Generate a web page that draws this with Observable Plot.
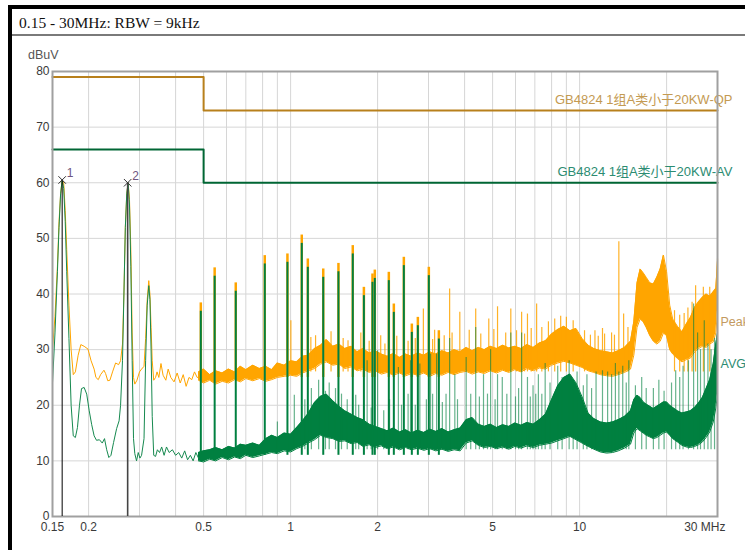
<!DOCTYPE html>
<html><head><meta charset="utf-8">
<script src="https://cdn.jsdelivr.net/npm/d3@7"></script>
<script src="https://cdn.jsdelivr.net/npm/@observablehq/plot@0.6"></script>
<style>
html,body{margin:0;padding:0;background:#fff;}
#wrap{position:relative;width:745px;height:550px;overflow:hidden;font-family:"Liberation Sans",Arial,sans-serif;}
#topbar{position:absolute;left:8px;top:5px;width:737px;height:4px;background:#000;}
#leftbar{position:absolute;left:8px;top:5px;width:4px;height:545px;background:#000;}
#title{position:absolute;left:19px;top:14px;font-family:"Liberation Serif","Times New Roman",serif;font-size:15.5px;color:#111;line-height:18px;}
#sep{position:absolute;left:12px;top:34px;width:733px;height:2px;background:#7a7a7a;}
#unit{position:absolute;left:28px;top:48px;font-size:12.5px;color:#555;}
#chart{position:absolute;left:0;top:0;}
</style></head>
<body>
<div id="wrap">
  <div id="topbar"></div>
  <div id="leftbar"></div>
  <div id="title">0.15 - 30MHz: RBW = 9kHz</div>
  <div id="sep"></div>
  <div id="unit">dBuV</div>
  <div id="chart"></div>
</div>
<script>
// ---------- axes / grid ----------
const xTicks = [0.15, 0.2, 0.5, 1, 2, 5, 10];
const xTickLabels = ["0.15", "0.2", "0.5", "1", "2", "5", "10"];
const xEndTick = [30];
const xEndLabel = ["30 MHz"];
const xGrid = [0.2, 0.3, 0.4, 0.5, 0.6, 0.7, 0.8, 0.9, 1, 2, 3, 4, 5, 6, 7, 8, 9, 10, 20];
const yTicks = [0, 10, 20, 30, 40, 50, 60, 70, 80];

// ---------- limit lines ----------
const qpFreq = [0.15, 0.5, 0.5, 30];
const qpLevel = [79, 79, 73, 73];
const avFreq = [0.15, 0.5, 0.5, 30];
const avLevel = [66, 66, 60, 60];
const limitNames = ["GB4824 1组A类小于20KW-QP", "GB4824 1组A类小于20KW-AV"];
const limitLabelLevel = [73, 60];
const traceNames = ["Peak", "AVG"];
const traceLabelLevel = [34.9, 27.5];

// ---------- peak trace, low-frequency part (single line) ----------
const peakLineFreq = [0.150,0.153,0.156,0.158,0.160,0.162,0.164,0.166,0.168,0.171,0.174,0.177,0.180,0.184,0.188,0.193,0.199,0.204,0.209,0.212,0.216,0.220,0.226,0.229,0.233,0.237,0.242,0.248,0.254,0.258,0.262,0.265,0.268,0.271,0.274,0.277,0.280,0.283,0.286,0.289,0.294,0.300,0.305,0.311,0.315,0.319,0.323,0.326,0.329,0.332,0.336,0.341,0.345,0.350,0.356,0.362,0.370,0.377,0.385,0.395,0.405,0.415,0.425,0.435,0.445,0.455,0.465,0.475,0.480];
const peakLineVal  = [30,36,45,53,58,60.5,60,55,48,38,30,25.5,26,29,30.9,30.6,30.1,28,26.5,25,24.6,25.5,26.3,25.7,24.4,24.5,26,27.6,27.3,28,31,40,52,58,60,57,48,33,25,23.8,24.5,26,26.5,27,32,39,42.4,40,34,28,24.5,25,26,25,27.5,25.4,24.5,26.5,25,24.2,25.8,24,25.5,23.4,25,24.6,26,25,25];

// ---------- dense part: shared frequency grid for the noise envelopes ----------
const bandFreq = [0.48,0.50,0.525,0.55,0.58,0.61,0.64,0.67,0.70,0.74,0.78,0.82,0.86,0.90,0.95,1.0,1.05,1.10,1.15,1.21,1.27,1.33,1.40,1.47,1.54,1.62,1.70,1.78,1.87,1.96,2.06,2.16,2.27,2.38,2.5,2.62,2.75,2.89,3.03,3.18,3.34,3.51,3.68,3.86,4.05,4.25,4.46,4.68,4.91,5.16,5.42,5.69,5.97,6.27,6.58,6.91,7.26,7.62,8.0,8.4,8.82,9.26,9.72,10.2,10.7,11.2,11.8,12.4,13.0,13.6,14.3,15.0,15.4,15.8,16.2,16.6,17.0,17.5,18.0,18.5,19.0,19.5,20.0,20.5,21.0,21.8,22.6,23.4,24.2,25.0,25.8,26.6,27.4,28.2,29.0,29.6,30.0];
const peakBandLo = [24.5,24,24.5,23.8,24.3,24,24.6,24.2,24.8,24.4,24.8,24.3,24.6,25,25.2,25.4,25.2,25.8,26.2,26.6,27.4,27.8,27.2,27.4,26.6,26.9,26.2,26.5,25.9,26.2,25.6,25.9,25.4,25.8,25.3,25.7,25.4,25.8,25.2,25.7,25.4,25.9,25.5,25.9,26.1,25.6,26,25.7,26.2,25.8,26.3,25.9,26.4,26,26.6,26.2,26.7,26.5,27.2,27.6,27.9,27.6,27.2,26.8,26.2,25.9,25.5,25.3,25.2,25.5,25.9,26.5,29,34,35.5,35,34,32.5,31.5,31,31.5,33,32.5,30,29.2,28.4,27.8,28.2,28.5,29.6,30.2,30.6,30.4,31,31.4,33,37];
const peakBandHi = [26,26.5,25.5,26.2,25.8,26.5,26,27,26.4,27.2,26.6,27,26.4,27.6,27.2,28,27.8,28.8,29,30.2,30.8,31.8,30.6,31,30.2,30.6,29.6,30.2,29.4,29.8,29.2,28.8,29.3,28.6,29.2,28.8,29.4,29,29.6,29.2,29.8,29.4,30,29.6,30.4,29.8,30.4,30,30.6,30.2,30.8,30.3,30.6,30.2,30.9,30.4,31.2,31.6,32.8,33.6,34.2,33.4,33.8,32,30.8,30.2,29.8,29.6,29.4,29.8,30.4,31.5,35,42,44.5,43.8,43,42,41.8,43,44.5,47,44,38,35.5,34.2,33.2,34.6,35.8,37.6,38.6,39.4,40,39.6,40.4,41,46];

// ---------- peak-only spikes ----------
const peakSpikeFreq = [1.002,1.175,1.22,1.38,1.52,1.58,1.75,1.87,2.05,2.12,2.33,2.55,2.7,2.88,3.1,3.15,3.4,3.55,3.62,3.85,4.15,4.37,4.55,4.85,5.05,5.2,5.55,5.78,6.05,6.3,6.45,6.6,6.8,7.1,7.4,7.8,8.2,8.6,9.0,9.5,10.4,10.9,11.3,11.6,12.0,12.2,12.9,13.2,13.67,14.2,14.7,21.3,22.2,23.0,23.7,24.5,25.2,26.8,28.2,30.0];
const peakSpikeTop  = [35.2,32.2,32.5,33.2,32,31.6,33,31.5,32.5,31,32.4,31.5,32,37.3,31.8,33.5,32.5,40.9,33,36.7,33.5,37.3,32.8,35.5,33.6,37.7,33,37.3,33.4,36.7,32.8,36.4,33.8,38.2,34,35,35.5,36,35.8,35.2,33.4,32.6,33.4,32.4,33.8,32.8,33,32.6,49.4,36.4,34,37,36.2,36.5,37.5,38.5,41.5,41.2,41.2,46.3];
const peakSpikeBase = 26;

// ---------- harmonic comb (peak and average nearly equal) ----------
const combFreq = [0.489,0.546,0.646,0.814,0.975,1.093,1.147,1.297,1.464,1.641,1.793,1.920,1.956,2.187,2.276,2.465,2.627,2.756,3.008,3.258];
const combTop  = [38.4,44.7,42.0,46.9,47.2,50.6,46.3,44.5,45.5,48.7,41.2,43.6,44.3,43.9,38.2,46.6,34.6,35.8,44.8,33.4];
const combPeakBase = 25;
const combAvgBase = 11;

// ---------- average trace, low-frequency part ----------
const avgLineFreq = [0.150,0.153,0.156,0.158,0.160,0.162,0.164,0.166,0.168,0.171,0.174,0.177,0.180,0.183,0.186,0.189,0.193,0.197,0.201,0.205,0.209,0.213,0.218,0.223,0.227,0.231,0.235,0.239,0.244,0.250,0.255,0.258,0.262,0.265,0.268,0.271,0.274,0.277,0.280,0.283,0.286,0.289,0.293,0.297,0.301,0.305,0.311,0.315,0.319,0.323,0.326,0.329,0.332,0.336,0.341,0.346,0.352,0.358,0.365,0.372,0.380,0.390,0.400,0.410,0.420,0.430,0.440,0.450,0.460,0.470,0.480];
const avgLineVal  = [24,33,44,52,58,60.5,59,53,44,32,20,14.5,14.2,16,20,23,23.2,22,19,16.5,14.5,13.7,13.8,13.2,14,12,10.6,11,13.3,15.8,17.2,20,28,40,52,58,60,56,45,28,14,11.3,10,11.5,10.5,11,14,28,38,41.5,39,30,18,11,10.8,12,11.5,12.5,11,12.5,11.5,12,11,11.5,10.5,11.8,10.2,11,10,11.5,10.5];

// ---------- average trace, dense part (same frequency grid) ----------
const avgBandLo = [10,9.8,10.3,10,10.6,10.2,10.7,10.4,11,10.6,10.9,11.2,11.5,11.3,11.8,11.6,12.2,12.6,13.2,13.8,14.6,14.2,14,13.5,13.6,13.1,13.3,12.6,12.9,12.4,12.7,12.2,12.5,12,12.4,12,12.3,11.9,12.2,11.8,12.1,11.7,12,11.8,13.2,13.6,12.8,12.4,12.6,12.2,12.5,12.1,12.6,12.3,12.7,12.4,12.8,13,13.2,13.6,14,14.4,13.8,13.2,12.6,12.1,11.6,11.4,11.5,11.8,12.3,13,15,15.8,15.4,15,14.6,14.3,14,14.2,14.6,15,15.2,14.6,14,13.4,12.8,12.5,12.4,12.6,12.9,13.4,14.2,15.2,17,19.5,22];
const avgBandHi = [11.5,11.8,12,12.4,12,12.6,12.3,13,12.8,13.2,12.8,14,14.6,14.2,15,14.8,16,17.2,18.5,20.5,21.6,22,20.8,19.8,19,18.4,17.8,17.4,16.6,16.2,15.8,15.4,15.9,15.2,15.6,15,15.5,15.1,15.7,15.3,15.8,15.2,15.6,15.9,17.4,17.8,16.6,16.2,16.6,16,16.5,16.2,16.8,16.4,16.9,16.6,17.4,18.4,21,23.5,25,25.6,24,21.5,18.6,17.6,17,16.8,17,17.4,18,19,21,21.8,21.4,20.6,20.2,19.8,19.4,19.8,20.2,20.6,20.6,20,19.6,19,18.6,18.8,19,19.6,20.4,21.4,23,24.6,27.5,31,33];

// ---------- average-only spikes ----------
const avgSpikeFreq = [0.90,1.03,1.12,1.18,1.25,1.32,1.36,1.43,1.5,1.57,1.68,1.72,1.84,1.9,2.0,2.1,2.2,2.36,2.42,2.55,2.6,2.7,2.8,2.95,3.05,3.1,3.2,3.35,3.45,3.55,3.7,3.78,4.05,4.2,4.37,4.5,4.65,4.8,4.92,5.1,5.2,5.4,5.6,5.78,6.0,6.15,6.3,6.6,6.75,6.9,7.05,7.2,7.4,7.6,7.9,8.4,8.7,9.2,9.5,9.8,10.3,10.6,11.0,11.4,12.0,12.5,12.9,13.3,13.67,14.1,14.5,14.8,15.6,16.4,17.0,18.0,18.8,19.6,20.8,21.5,22.2,22.8,23.8,24.8,25.6,26.2,27.0,27.8,28.5,29.3];
const avgSpikeTop  = [17,21.8,21,23,24.5,22.5,24,23,22,21,21.8,20,28,19.5,29.8,19,21,26.8,20,22,28,20,27.4,21,29.2,22,29.2,20.5,22,32,25.5,21,28.6,22,34,21.5,25.5,22,30,21,25.5,25,22,33,21.5,23,33,25,21.5,23.5,22,25.5,22,27.5,24,27,25,28,24.5,26,23.5,25.5,23,26,26.2,26,25.5,27.5,26,27,24,28,23.5,25,23,23,24.5,22.5,24,26.2,25,27,28,38.2,33,30,35.2,31,30,32];
const avgSpikeBase = 12;

// ---------- markers ----------
const markerFreq = [0.162, 0.273];
const markerLevel = [60.5, 60];
const markerLabel = ["1", "2"];

// ---------- build tables ----------
const zip2 = (fs, vs) => fs.map((f, i) => ({f, v: vs[i]}));
const zip3 = (fs, lo, hi) => fs.map((f, i) => ({f, lo: lo[i], hi: hi[i]}));
const peakLine = zip2(peakLineFreq, peakLineVal);
const peakBand = zip3(bandFreq, peakBandLo, peakBandHi);
const avgLine = zip2(avgLineFreq, avgLineVal);
const avgBand = zip3(bandFreq, avgBandLo, avgBandHi);
const peakSpikes = zip2(peakSpikeFreq, peakSpikeTop);
const avgSpikes = zip2(avgSpikeFreq, avgSpikeTop);
const comb = zip2(combFreq, combTop);
const qp = zip2(qpFreq, qpLevel);
const av = zip2(avFreq, avLevel);
const markers = markerFreq.map((f, i) => ({f, v: markerLevel[i], t: markerLabel[i]}));

const ORANGE = "#FFA500";
const GREEN = "#008040";
const GREEN_THIN = "#16894f";

const chart = Plot.plot({
  width: 745,
  height: 550,
  marginLeft: 52,
  marginRight: 28,
  marginTop: 71,
  marginBottom: 34,
  x: {type: "log", domain: [0.15, 30], axis: null},
  y: {domain: [0, 80], axis: null},
  style: {fontFamily: "'Liberation Sans', Arial, 'Noto Sans CJK SC', sans-serif", fontSize: "12px", background: "transparent", overflow: "visible"},
  marks: [
    Plot.ruleX(xGrid, {stroke: "#d6d6d6", strokeWidth: 1}),
    Plot.ruleY(yTicks, {stroke: "#d6d6d6", strokeWidth: 1}),
    // peak trace
    Plot.areaY(peakBand, {x: "f", y1: "lo", y2: "hi", fill: ORANGE}),
    Plot.line(peakBand, {x: "f", y: "hi", stroke: ORANGE, strokeWidth: 1}),
    Plot.line(peakBand, {x: "f", y: "lo", stroke: ORANGE, strokeWidth: 1}),
    Plot.line(peakLine, {x: "f", y: "v", stroke: ORANGE, strokeWidth: 1}),
    Plot.ruleX(peakSpikes, {x: "f", y1: peakSpikeBase, y2: "v", stroke: ORANGE, strokeWidth: 1.2, strokeOpacity: 0.85}),
    Plot.ruleX(comb, {x: "f", y1: combPeakBase, y2: "v", stroke: ORANGE, strokeWidth: 2.5}),
    // average trace
    Plot.areaY(avgBand, {x: "f", y1: "lo", y2: "hi", fill: GREEN}),
    Plot.line(avgBand, {x: "f", y: "hi", stroke: GREEN, strokeWidth: 1}),
    Plot.line(avgBand, {x: "f", y: "lo", stroke: GREEN, strokeWidth: 1}),
    Plot.line(avgLine, {x: "f", y: "v", stroke: GREEN_THIN, strokeWidth: 1}),
    Plot.ruleX(avgSpikes, {x: "f", y1: avgSpikeBase, y2: "v", stroke: GREEN, strokeWidth: 1.2, strokeOpacity: 0.6}),
    Plot.ruleX(comb, {x: "f", y1: combAvgBase, y2: d => d.v - 1.5, stroke: GREEN, strokeWidth: 2}),
    // limits
    Plot.line(qp, {x: "f", y: "v", stroke: "#b8801c", strokeWidth: 2}),
    Plot.line(av, {x: "f", y: "v", stroke: "#006634", strokeWidth: 2}),
    Plot.text(limitNames, {x: () => 30, y: (d, i) => limitLabelLevel[i], text: d => d, textAnchor: "end", dx: 15, dy: -11, fontSize: 13, fill: (d, i) => i === 0 ? "#c49a52" : "#2c8c72"}),
    Plot.text(traceNames, {x: () => 30, y: (d, i) => traceLabelLevel[i], text: d => d, textAnchor: "start", dx: 3, fontSize: 12.5, fill: (d, i) => i === 0 ? "#c39a60" : "#2c8c72"}),
    // frame
    Plot.frame({stroke: "#a0a0a0", strokeWidth: 2}),
    // markers
    Plot.ruleX(markers.slice(0, 1), {x: "f", y1: 0, y2: "v", stroke: "#000", strokeWidth: 1}),
    Plot.ruleX(markers.slice(1), {x: "f", y1: 0, y2: "v", stroke: "#444", strokeWidth: 1.6}),
    Plot.dot(markers, {x: "f", y: "v", symbol: "times", r: 3.5, stroke: "#333", strokeWidth: 1}),
    Plot.text(markers, {x: "f", y: "v", text: "t", dx: 8, dy: -7, fill: "#6e5580", fontSize: 12}),
    // tick labels
    Plot.text(yTicks, {y: d => d, frameAnchor: "left", dx: -3, textAnchor: "end", text: d => String(d), fill: "#3a3a3a", fontSize: 12}),
    Plot.text(xTicks, {x: d => d, frameAnchor: "bottom", dy: 14, text: (d, i) => xTickLabels[i], fill: "#3a3a3a", fontSize: 12}),
    Plot.text(xEndTick, {x: d => d, frameAnchor: "bottom", dy: 14, dx: 8, textAnchor: "end", text: (d, i) => xEndLabel[i], fill: "#3a3a3a", fontSize: 12})
  ]
});
document.getElementById("chart").appendChild(chart);
</script>
</body></html>
